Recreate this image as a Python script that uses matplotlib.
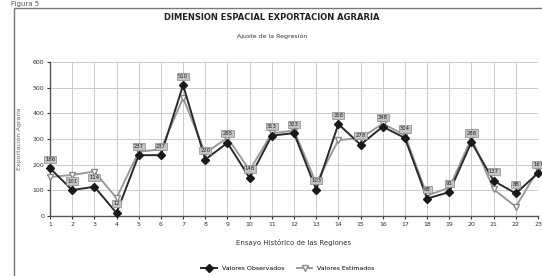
import numpy as np
import matplotlib.pyplot as plt
from matplotlib.patches import Rectangle

regiones = list(range(1, 24))
observados = [186, 101, 114, 12, 237, 237, 510, 220, 285, 148, 313, 323, 103,
              358, 278, 348, 304, 68, 93, 288, 137, 88, 167]
estimados = [152, 160, 173, 70, 250, 260, 460, 245, 305, 178, 322, 333, 128,
             296, 303, 360, 315, 80, 110, 303, 104, 36, 180]
y_ticks = [0, 100, 200, 300, 400, 500, 600]

titulo = "DIMENSION ESPACIAL EXPORTACION AGRARIA"
subtitulo = "Ajuste de la Regresión"
xlabel = "Ensayo Histórico de las Regiones"
leyenda = ["Valores Observados", "Valores Estimados"]

fig = plt.figure(figsize=(5.42, 2.76), dpi=100)
fig.patch.set_facecolor("white")

# outer frame of the figure panel
fig.patches.append(Rectangle((14 / 542, -0.02), 1.0, (276 - 8) / 276 + 0.02,
                             transform=fig.transFigure, fill=False,
                             edgecolor="#777777", linewidth=1.0))
fig.text(0.02, 0.995, "Figura 5", fontsize=5, color="#555555", va="top")

ax = fig.add_axes([50 / 542, 60 / 276, 488 / 542, 154 / 276])
ax.set_xlim(1, 23)
ax.set_ylim(0, 600)
ax.set_xticks(regiones)
ax.set_yticks(y_ticks)
ax.tick_params(labelsize=4.5, length=2, colors="#333333", pad=2)
ax.grid(True, color="#cccccc", linewidth=0.7)
for s in ["top", "right"]:
    ax.spines[s].set_visible(False)
for s in ["left", "bottom"]:
    ax.spines[s].set_color("#555555")
    ax.spines[s].set_linewidth(1.0)

ax.plot(regiones, estimados, color="#9a9a9a", linewidth=1.4, marker="v",
        markersize=4.5, markerfacecolor="white", markeredgecolor="#8a8a8a",
        label=leyenda[1], zorder=3, clip_on=False)
ax.plot(regiones, observados, color="#2a2a2a", linewidth=1.4, marker="D",
        markersize=3.8, markerfacecolor="#1a1a1a", markeredgecolor="#1a1a1a",
        label=leyenda[0], zorder=4, clip_on=False)

for x, y in zip(regiones, observados):
    ax.annotate(str(y), (x, y), xytext=(0, 6.5), textcoords="offset points",
                ha="center", va="center", fontsize=3.8, color="#222222",
                bbox=dict(boxstyle="square,pad=0.2", facecolor="#c4c4c4",
                          edgecolor="#888888", linewidth=0.5), zorder=5)

ax.set_xlabel(xlabel, fontsize=5, color="#333333", labelpad=9)
ax.set_ylabel("Exportación Agraria", fontsize=4.5, color="#666666", labelpad=8)

fig.text(272 / 542, 1 - 18 / 276, titulo, ha="center", va="center",
         fontsize=6, fontweight="bold", color="#222222")
fig.text(272 / 542, 1 - 36 / 276, subtitulo, ha="center", va="center",
         fontsize=4.5, color="#333333")

h, l = ax.get_legend_handles_labels()
fig.legend(h[::-1], l[::-1], loc="center", bbox_to_anchor=(288 / 542, 1 - 268 / 276),
           ncol=2, frameon=False, fontsize=4.5, handlelength=2.5,
           columnspacing=2.0)

fig.savefig("out.png", dpi=100)
